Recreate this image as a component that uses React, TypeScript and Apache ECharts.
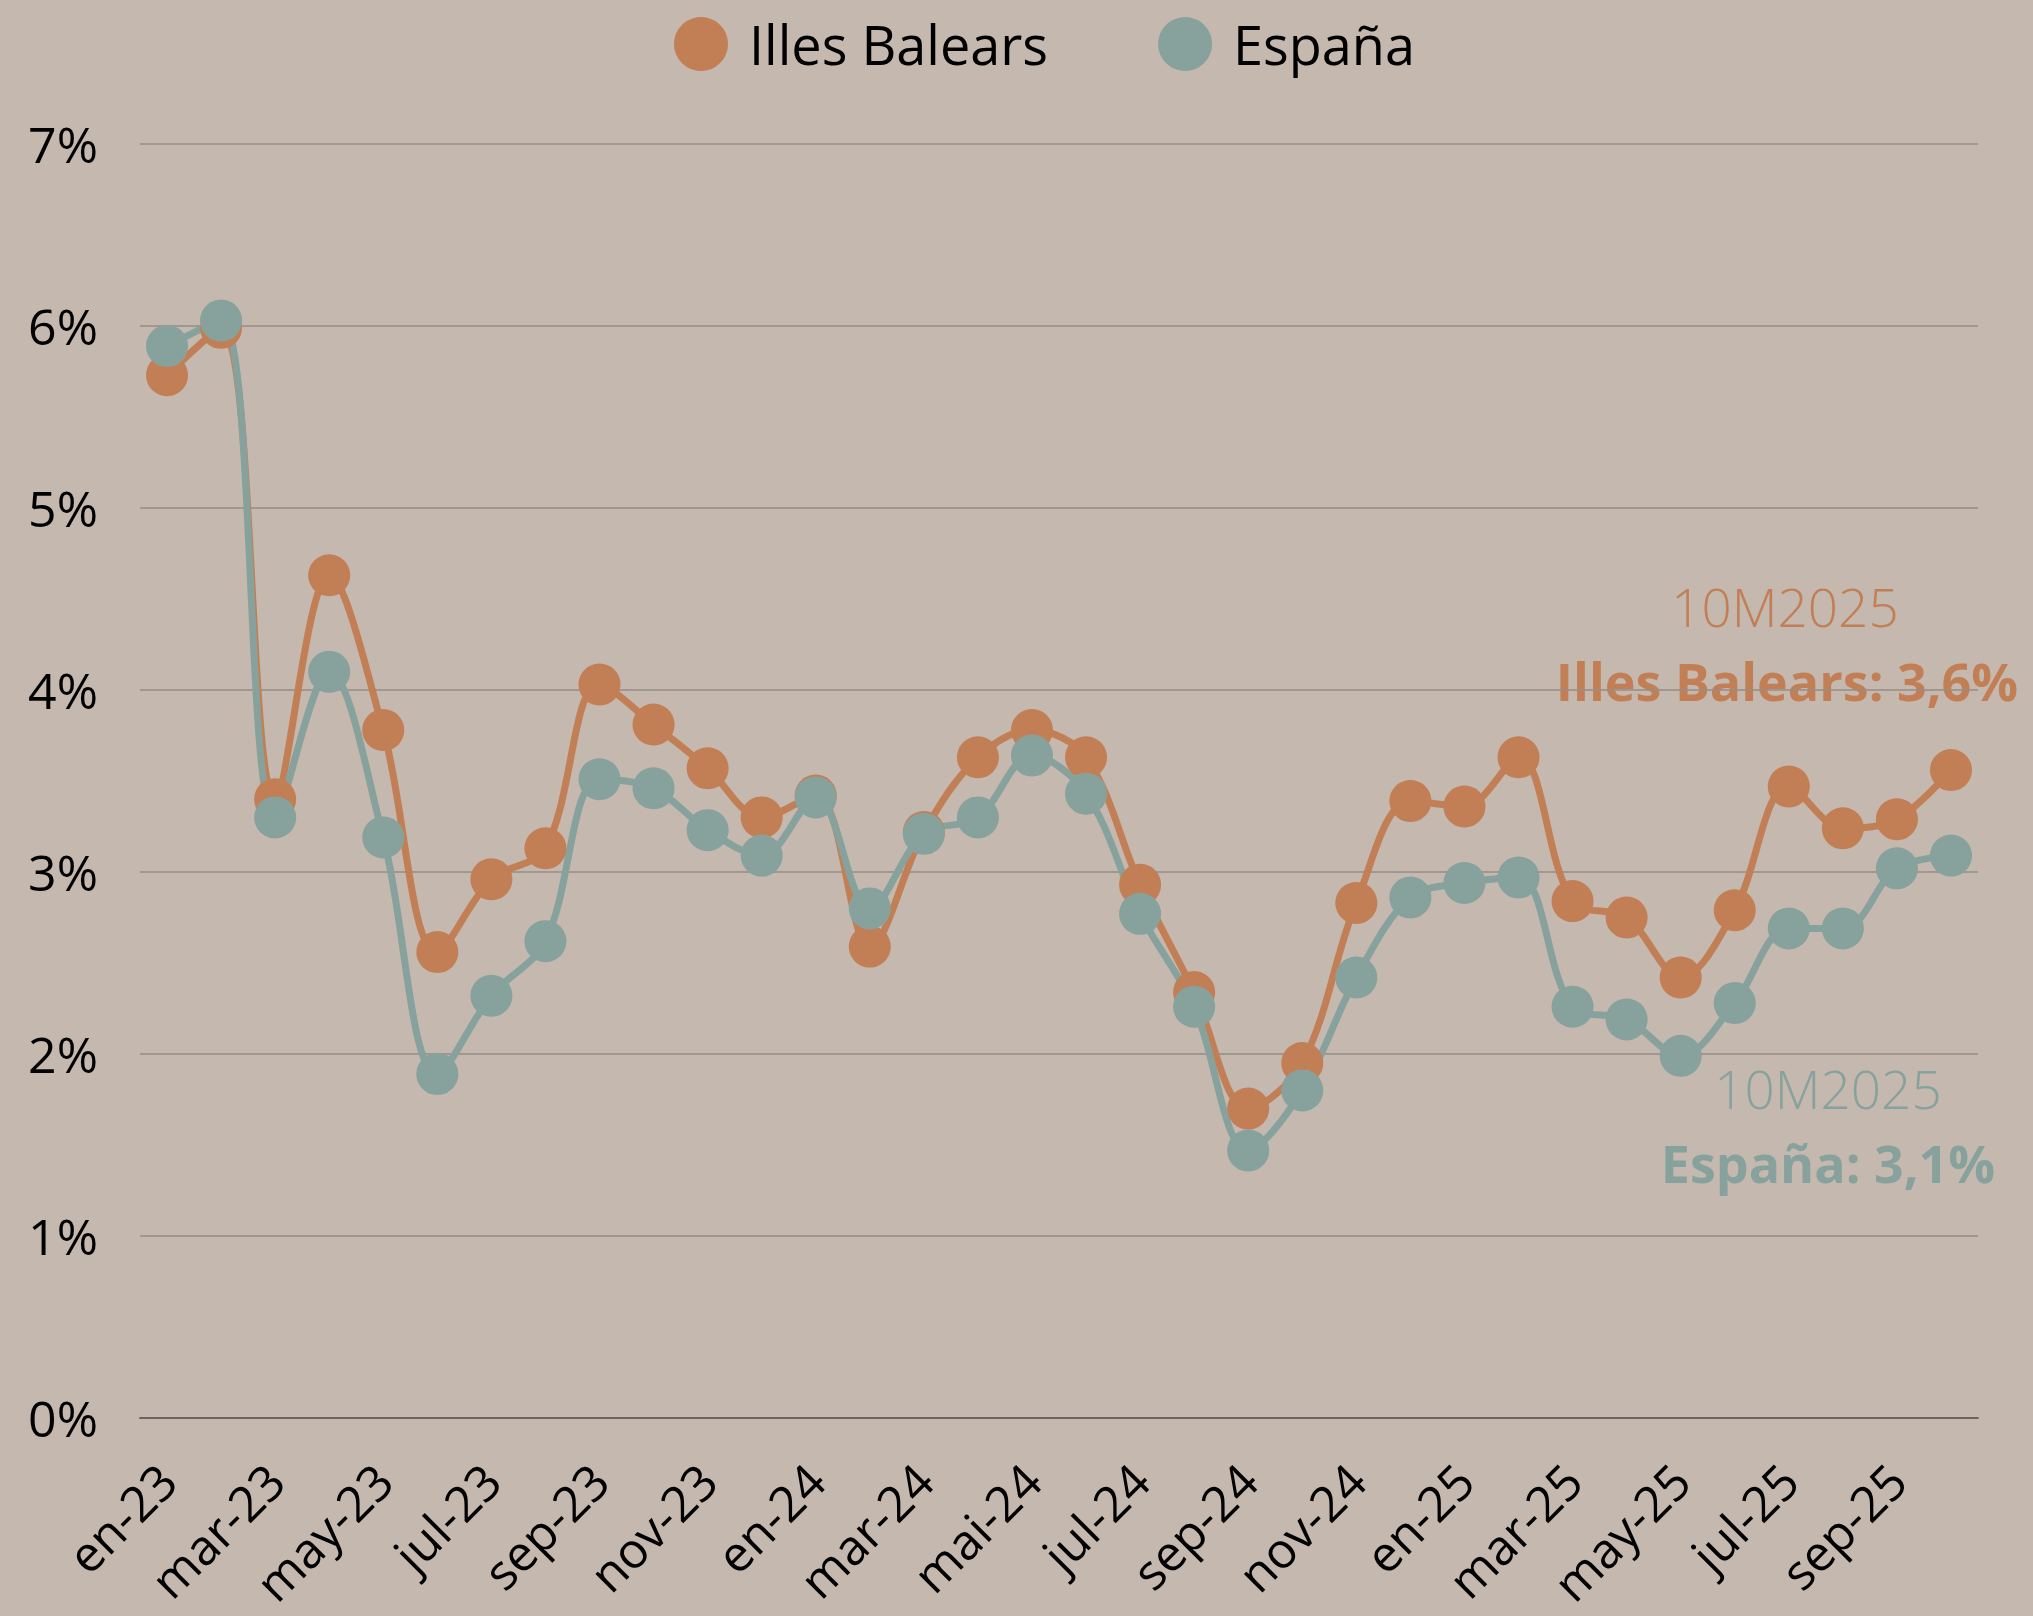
import React, { useEffect, useRef } from "react";
import * as echarts from "echarts";

const categories = [
  "en-23", "feb-23", "mar-23", "abr-23", "may-23", "jun-23", "jul-23", "ago-23", "sep-23", "oct-23", "nov-23", "dic-23",
  "en-24", "feb-24", "mar-24", "abr-24", "mai-24", "jun-24", "jul-24", "ago-24", "sep-24", "oct-24", "nov-24", "dic-24",
  "en-25", "feb-25", "mar-25", "abr-25", "may-25", "jun-25", "jul-25", "ago-25", "sep-25", "oct-25",
];

const illesBalears = [
  5.73, 5.99, 3.40, 4.63, 3.78, 2.56, 2.96, 3.13, 4.03, 3.81, 3.57, 3.30,
  3.42, 2.59, 3.22, 3.63, 3.78, 3.63, 2.93, 2.34, 1.70, 1.95, 2.83, 3.39,
  3.36, 3.63, 2.84, 2.75, 2.42, 2.79, 3.47, 3.24, 3.29, 3.56,
];

const espana = [
  5.89, 6.03, 3.30, 4.10, 3.19, 1.89, 2.32, 2.62, 3.51, 3.46, 3.23, 3.09,
  3.41, 2.80, 3.21, 3.30, 3.64, 3.43, 2.77, 2.26, 1.47, 1.80, 2.42, 2.86,
  2.94, 2.97, 2.26, 2.19, 1.99, 2.28, 2.69, 2.69, 3.02, 3.09,
];

const seriesNames = ["Illes Balears", "España"];
const periodLabel = "10M2025";
const yTicks = { min: 0, max: 7, interval: 1 };

const ORANGE = "#C27F55";
const TEAL = "#87A29D";
const BG = "#C4B8AF";
const FONT = "'Open Sans', Lato, sans-serif";

const fmt = (v: number) => v.toFixed(1).replace(".", ",") + "%";

export default function App() {
  const ref = useRef<HTMLDivElement>(null);
  useEffect(() => {
    if (!ref.current) return;
    const chart = echarts.init(ref.current, null, { renderer: "svg" });
    const lastIB = illesBalears[illesBalears.length - 1];
    const lastES = espana[espana.length - 1];
    chart.setOption({
      animation: false,
      backgroundColor: BG,
      textStyle: { fontFamily: FONT },
      legend: {
        top: 12,
        left: 669,
        icon: "circle",
        itemWidth: 54,
        itemHeight: 54,
        itemGap: 110,
        textStyle: { fontSize: 54, color: "#000", fontFamily: FONT, padding: [0, 0, 0, 16] },
        data: seriesNames,
      },
      grid: { left: 140, right: 55, top: 144, bottom: 198 },
      xAxis: {
        type: "category",
        data: categories,
        boundaryGap: true,
        axisLine: { show: true, lineStyle: { color: "#6B6460", width: 2 } },
        axisTick: { show: false },
        axisLabel: {
          interval: 1,
          rotate: 45,
          fontSize: 49,
          color: "#000",
          fontFamily: FONT,
          margin: 54,
        },
      },
      yAxis: {
        type: "value",
        min: yTicks.min,
        max: yTicks.max,
        interval: yTicks.interval,
        axisLine: { show: false },
        axisTick: { show: false },
        axisLabel: { formatter: "{value}%", fontSize: 50, color: "#000", fontFamily: FONT, margin: 42 },
        splitLine: { lineStyle: { color: "#978D85", width: 1.5 } },
      },
      series: [
        {
          name: seriesNames[0],
          type: "line",
          data: illesBalears,
          smooth: 0.35,
          symbol: "circle",
          symbolSize: 42,
          showAllSymbol: true,
          itemStyle: { color: ORANGE },
          lineStyle: { color: ORANGE, width: 7 },
        },
        {
          name: seriesNames[1],
          type: "line",
          data: espana,
          smooth: 0.35,
          symbol: "circle",
          symbolSize: 42,
          showAllSymbol: true,
          itemStyle: { color: TEAL },
          lineStyle: { color: TEAL, width: 7 },
        },
      ],
      graphic: [
        {
          type: "text",
          x: 1785,
          y: 606,
          style: { text: periodLabel, fill: ORANGE, font: `300 53px ${FONT}`, textAlign: "center", textVerticalAlign: "middle" },
        },
        {
          type: "text",
          x: 1787,
          y: 680,
          style: { text: `${seriesNames[0]}: ${fmt(lastIB)}`, fill: ORANGE, font: `bold 52px ${FONT}`, textAlign: "center", textVerticalAlign: "middle" },
        },
        {
          type: "text",
          x: 1828,
          y: 1088,
          style: { text: periodLabel, fill: TEAL, font: `300 53px ${FONT}`, textAlign: "center", textVerticalAlign: "middle" },
        },
        {
          type: "text",
          x: 1828,
          y: 1162,
          style: { text: `${seriesNames[1]}: ${fmt(lastES)}`, fill: TEAL, font: `bold 52px ${FONT}`, textAlign: "center", textVerticalAlign: "middle" },
        },
      ],
    });
    return () => chart.dispose();
  }, []);
  return (
    <div
      ref={ref}
      style={{ position: "fixed", left: 0, top: 0, width: 2033, height: 1616, background: BG }}
    />
  );
}
